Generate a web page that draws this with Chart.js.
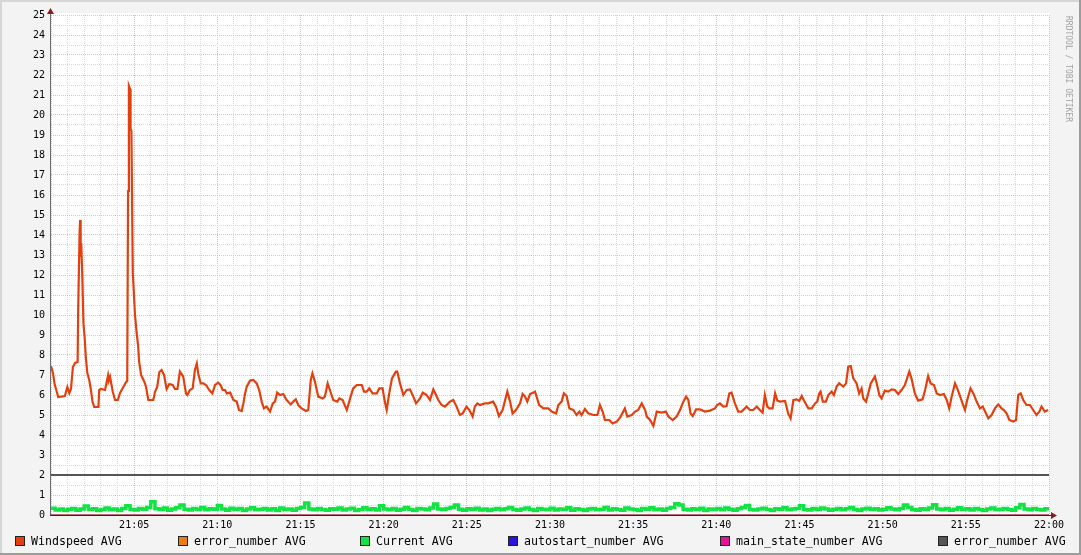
<!DOCTYPE html>
<html>
<head>
<meta charset="utf-8">
<script src="https://cdn.jsdelivr.net/npm/chart.js@4"></script>
<style>
  body { margin: 0; background: #f3f3f3; }
  #wrap { position: relative; width: 1081px; height: 555px; }
  #legend .item { position: absolute; top: 534px; height: 14px; display: flex; align-items: center;
    font: 11.6px "DejaVu Sans Mono", monospace; color: #000; white-space: pre; }
  #legend .box { width: 8px; height: 8px; border: 1px solid #222; margin-right: 6px; }
</style>
</head>
<body>
<div id="wrap">
  <canvas id="chart" width="1081" height="555"></canvas>
  <div id="legend"></div>
</div>
<script>
// Windspeed AVG: seconds after 21:00 / value
const windTime = [0,7,13,22,26,50,59,66,72,79,87,96,98,103,105,107,109,113,117,122,125,131,138,144,150,156,171,174,180,195,206,209,213,223,231,241,249,261,271,275,278,281,285,287,290,295,303,309,314,318,325,337,343,351,369,375,383,391,399,408,417,427,439,447,456,
  465,477,487,492,501,511,519,526,531,540,549,559,571,582,592,603,612,619,628,634,646,658,670,678,688,694,700,706,718,730,742,751,760,768,778,790,800,808,816,826,838,850,865,874,883,892,904,920,928,937,943,952,964,980,988,998,1006,1018,1033,1040,1052,1067,1081,1090,1103,1121,1129,1139,1148,1160,1175,1184,1196,1204,1211,1220,1230,1244,1249,1259,1271,1283,1295,1307,1317,1331,1341,1355,1367,1379,1389,1397,1409,1421,1439,1451,1463,1475,1485,1499,1509,1521,1529,1538,1547,
  1565,1577,1595,1605,1616,1629,1646,1656,1665,1677,1692,1701,1710,1718,1728,1740,1746,1761,1776,1794,1806,1822,1830,1842,1850,1860,1870,1884,1896,1906,1914,1926,1938,1956,1971,1980,1990,1998,2014,2026,2041,2055,2070,2079,2095,2107,2118,2131,2143,2149,2161,2173,2185,2203,2218,2227,2243,2257,2269,2281,2291,2299,2307,2315,2327,2341,2359,2377,2395,2403,2413,2425,2437,2447,2455,2467,2479,2491,2503,2509,2521,2533,2546,2557,2567,2575,2584,2591,2603,2612,2620,2630,
  2648,2659,2668,2678,2690,2699,2708,2716,2732,2744,2756,2764,2771,2776,2784,2795,2804,2816,2824,2834,2843,2858,2868,2876,2885,2894,2906,2915,2924,2930,2940,2948,2957,2972,2980,2988,2996,3008,3020,3032,3044,3056,3068,3080,3096,3104,3116,3128,3144,3153,3164,3173,3185,3195,3207,3221,3231,3240,3249,3261,3269,3279,3288,3297,3305,3317,3327,3339,3351,3361,3373,3381,3393,3405,3417,3429,3437,3447,3457,3471,3481,3489,3498,3507,3519,3531,3543,3555,3565,3573,3585,3597];
const windSpeed = [7.45,7.1,6.55,6.1,5.9,5.95,6.4,6.1,6.3,7.4,7.6,7.65,10.25,14.0,14.75,12.9,13.6,11.9,9.6,8.75,8.0,7.1,6.75,6.25,5.65,5.4,5.4,6.25,6.3,6.25,7.0,6.75,6.9,6.15,5.75,5.75,6.1,6.4,6.65,6.7,16.2,21.45,21.3,19.3,19.2,12.1,10.0,9.1,8.5,7.65,7.0,6.65,6.4,5.75,5.75,6.15,6.4,7.15,7.25,7.0,6.3,6.55,6.5,6.3,6.3,
  7.17,6.92,6.08,6.0,6.25,6.33,7.25,7.58,7.08,6.58,6.58,6.5,6.25,6.08,6.5,6.62,6.5,6.25,6.25,6.08,6.12,5.75,5.67,5.25,5.2,5.58,6.08,6.42,6.72,6.75,6.58,6.25,5.67,5.33,5.42,5.17,5.58,5.67,6.12,6.0,6.05,5.75,5.53,5.67,5.78,5.5,5.33,5.2,5.25,6.75,7.08,6.67,5.92,5.83,5.92,6.58,6.25,5.75,5.67,5.83,5.75,5.25,5.92,6.33,6.5,6.5,6.17,6.17,6.33,6.08,6.08,6.33,6.33,5.67,5.25,6.08,6.83,7.17,7.17,6.58,6.0,6.25,6.28,5.92,5.58,5.83,6.12,6.0,5.75,6.28,6.0,5.75,5.5,5.42,5.67,5.75,5.42,5.0,5.08,5.42,5.25,4.92,5.42,5.58,5.5,
  5.58,5.58,5.67,5.42,4.95,5.25,6.17,5.67,5.08,5.25,5.58,6.05,5.92,5.67,6.05,6.12,6.17,5.5,5.33,5.33,5.17,5.08,5.5,5.67,6.08,5.95,5.33,5.25,5.0,5.17,5.0,5.3,5.08,5.0,5.0,5.5,5.17,4.75,4.75,4.58,4.67,4.92,5.33,4.92,5.0,5.17,5.25,5.58,5.25,4.92,4.75,4.45,5.17,5.12,5.17,4.92,4.75,4.92,5.25,5.67,5.92,5.75,5.08,4.95,5.28,5.28,5.17,5.22,5.33,5.5,5.58,5.42,5.45,6.08,6.12,5.58,5.17,5.17,5.33,5.42,5.25,5.25,5.42,5.25,5.12,6.0,5.42,5.33,5.33,6.08,5.72,5.67,
  5.7,5.08,4.83,5.75,5.78,5.7,5.95,5.72,5.33,5.33,5.58,5.67,6.08,6.17,5.67,5.67,6.0,6.17,6.0,6.42,6.58,6.42,6.58,7.42,7.45,6.83,6.58,6.08,6.33,5.83,5.67,6.08,6.58,6.92,6.5,6.0,5.83,6.22,6.17,6.28,6.25,6.05,6.25,6.5,7.17,6.83,6.08,5.72,5.78,6.25,6.95,6.58,6.5,6.08,6.0,6.05,5.75,5.33,5.92,6.58,6.33,5.95,5.58,5.25,5.75,6.33,6.08,5.67,5.33,5.42,5.08,4.83,5.0,5.33,5.53,5.33,5.25,5.08,4.75,4.67,4.75,6.0,6.08,5.75,5.5,5.5,5.25,5.0,5.17,5.42,5.17,5.25];

// Current AVG: one value every 15 s from 21:00
const currentStep = 15;
const currentAvg = [0.34,0.25,0.3,0.22,0.29,0.33,0.24,0.3,0.45,0.27,
  0.31,0.22,0.28,0.35,0.26,0.3,0.23,0.32,0.46,0.28,
  0.25,0.33,0.29,0.38,0.66,0.31,0.27,0.35,0.24,0.3,
  0.36,0.5,0.29,0.25,0.33,0.28,0.37,0.26,0.31,0.29,
  0.47,0.3,0.24,0.34,0.27,0.32,0.22,0.3,0.36,0.26,
  0.29,0.33,0.25,0.31,0.23,0.35,0.28,0.3,0.24,0.32,
  0.38,0.6,0.3,0.26,0.33,0.27,0.24,0.31,0.29,0.35,
  0.25,0.3,0.34,0.22,0.28,0.36,0.27,0.31,0.25,0.46,
  0.3,0.26,0.33,0.24,0.29,0.37,0.28,0.23,0.32,0.3,
  0.26,0.35,0.55,0.3,0.27,0.33,0.38,0.5,0.29,0.24,
  0.31,0.27,0.34,0.25,0.3,0.22,0.29,0.33,0.26,0.31,
  0.37,0.28,0.24,0.3,0.35,0.27,0.23,0.32,0.29,0.26,
  0.34,0.25,0.3,0.28,0.36,0.24,0.31,0.27,0.22,0.3,
  0.33,0.26,0.29,0.38,0.25,0.31,0.28,0.24,0.35,0.3,
  0.27,0.23,0.32,0.29,0.36,0.26,0.3,0.24,0.33,0.37,
  0.56,0.5,0.29,0.25,0.31,0.27,0.34,0.23,0.3,0.28,
  0.32,0.26,0.35,0.29,0.24,0.31,0.37,0.47,0.28,0.25,
  0.3,0.34,0.27,0.22,0.31,0.29,0.36,0.26,0.3,0.33,
  0.46,0.28,0.25,0.32,0.27,0.35,0.3,0.24,0.29,0.33,
  0.26,0.31,0.37,0.28,0.23,0.3,0.34,0.27,0.31,0.25,
  0.29,0.36,0.3,0.26,0.33,0.5,0.38,0.28,0.24,0.31,
  0.27,0.35,0.51,0.3,0.26,0.32,0.24,0.29,0.36,0.27,
  0.31,0.25,0.33,0.28,0.22,0.3,0.35,0.26,0.29,0.32,
  0.27,0.24,0.36,0.52,0.3,0.26,0.33,0.28,0.25,0.31,
  0.29];

// constant series, start and end of the hour
const flatTime = [0, 3600];
const errorNumberA = [0, 0];
const autostartNumber = [0, 0];
const mainStateNumber = [0, 0];
const errorNumberB = [2, 2];

const xTickLabels = ["21:05","21:10","21:15","21:20","21:25","21:30","21:35","21:40","21:45","21:50","21:55","22:00"];
const yTickLabels = ["0","1","2","3","4","5","6","7","8","9","10","11","12","13","14","15","16","17","18","19","20","21","22","23","24","25"];

function pts(times, values) {
  return values.map((v, i) => ({x: times[i], y: v}));
}
const currentTime = currentAvg.map((v, i) => i * currentStep);

const MAJOR = "#ebbcbc";
const MINOR = "#dadada";

// background, shaded frame, white canvas, axes with arrows, watermark
const rrdLook = {
  id: "rrdLook",
  beforeDraw(chart) {
    const c = chart.ctx, a = chart.chartArea, W = chart.width, H = chart.height;
    c.save();
    c.fillStyle = "#f3f3f3";
    c.fillRect(0, 0, W, H);
    c.fillStyle = "#d6d6d6";
    c.fillRect(0, 0, W, 2);
    c.fillRect(0, 0, 2, H);
    c.fillStyle = "#9c9c9c";
    c.fillRect(0, H - 2, W, 2);
    c.fillRect(W - 2, 0, 2, H);
    c.fillStyle = "#ffffff";
    c.fillRect(a.left, a.top - 2, a.right - a.left + 1, a.bottom - a.top + 2);
    c.restore();
  },
  afterDatasetsDraw(chart) {
    const c = chart.ctx, a = chart.chartArea;
    c.save();
    c.lineWidth = 1;
    c.strokeStyle = "#6c6c6c";
    c.beginPath();
    c.moveTo(a.left - 0.5, a.bottom + 0.5);
    c.lineTo(a.left - 0.5, a.top - 4);
    c.stroke();
    c.strokeStyle = "#2b2450";
    c.beginPath();
    c.moveTo(a.left - 1, a.bottom + 0.5);
    c.lineTo(a.right + 4, a.bottom + 0.5);
    c.stroke();
    c.fillStyle = "#8a1c1c";
    c.beginPath();
    c.moveTo(a.left - 0.5, a.top - 7);
    c.lineTo(a.left - 4, a.top - 1);
    c.lineTo(a.left + 3, a.top - 1);
    c.closePath();
    c.fill();
    c.beginPath();
    c.moveTo(a.right + 8, a.bottom + 0.5);
    c.lineTo(a.right + 2, a.bottom - 3);
    c.lineTo(a.right + 2, a.bottom + 4);
    c.closePath();
    c.fill();
    c.translate(1068, 16);
    c.rotate(Math.PI / 2);
    c.fillStyle = "#a2a2a2";
    c.font = "8px 'DejaVu Sans Mono'";
    c.textBaseline = "middle";
    c.fillText("RRDTOOL / TOBI OETIKER", 0, 0);
    c.restore();
  }
};

const ctx = document.getElementById("chart").getContext("2d");
const chart = new Chart(ctx, {
  type: "line",
  data: {
    datasets: [
      { label: "Windspeed AVG", data: pts(windTime, windSpeed), borderColor: "#e2400e", backgroundColor: "#e2400e", borderWidth: 2.2 },
      { label: "error_number AVG", data: pts(flatTime, errorNumberA), borderColor: "#e87e10", backgroundColor: "#e87e10", borderWidth: 1 },
      { label: "Current AVG", data: pts(currentTime, currentAvg), borderColor: "#12e244", backgroundColor: "#12e244", borderWidth: 3.5, stepped: true },
      { label: "autostart_number AVG", data: pts(flatTime, autostartNumber), borderColor: "#2614e0", backgroundColor: "#2614e0", borderWidth: 1 },
      { label: "main_state_number AVG", data: pts(flatTime, mainStateNumber), borderColor: "#e0149c", backgroundColor: "#e0149c", borderWidth: 1 },
      { label: "error_number AVG", data: pts(flatTime, errorNumberB), borderColor: "#555555", backgroundColor: "#555555", borderWidth: 2 }
    ]
  },
  options: {
    responsive: false,
    animation: false,
    events: [],
    layout: { padding: { left: 0, top: 15, right: 32, bottom: 20 } },
    elements: { point: { radius: 0 }, line: { tension: 0 } },
    plugins: { legend: { display: false }, tooltip: { enabled: false } },
    scales: {
      x: {
        type: "linear", min: 0, max: 3600,
        afterFit(s) { s.height = 20; },
        border: { display: false, dash: [1, 1] },
        grid: { drawTicks: false, color: c => (c.tick.value % 300 === 0 ? MAJOR : MINOR) },
        ticks: {
          stepSize: 60, autoSkip: false, maxRotation: 0, padding: 4, color: "#000",
          font: { family: "'DejaVu Sans Mono'", size: 10 },
          callback: v => (v > 0 && v % 300 === 0 ? xTickLabels[v / 300 - 1] : "")
        }
      },
      y: {
        min: 0, max: 25,
        afterFit(s) { s.width = 51; },
        border: { display: false, dash: [1, 1] },
        grid: { drawTicks: false, color: c => (c.tick.value % 1 === 0 ? MAJOR : MINOR) },
        ticks: {
          stepSize: 0.5, autoSkip: false, padding: 6, color: "#000",
          font: { family: "'DejaVu Sans Mono'", size: 10 },
          callback: v => (v % 1 === 0 ? yTickLabels[v] : "")
        }
      }
    }
  },
  plugins: [rrdLook]
});

// legend in the rrdtool layout
const legendLeft = [15, 178, 360, 508, 720, 938];
const legend = document.getElementById("legend");
chart.data.datasets.forEach((ds, i) => {
  const item = document.createElement("div");
  item.className = "item";
  item.style.left = legendLeft[i] + "px";
  const box = document.createElement("span");
  box.className = "box";
  box.style.background = ds.borderColor;
  const txt = document.createElement("span");
  txt.textContent = ds.label;
  item.appendChild(box);
  item.appendChild(txt);
  legend.appendChild(item);
});
</script>
</body>
</html>
